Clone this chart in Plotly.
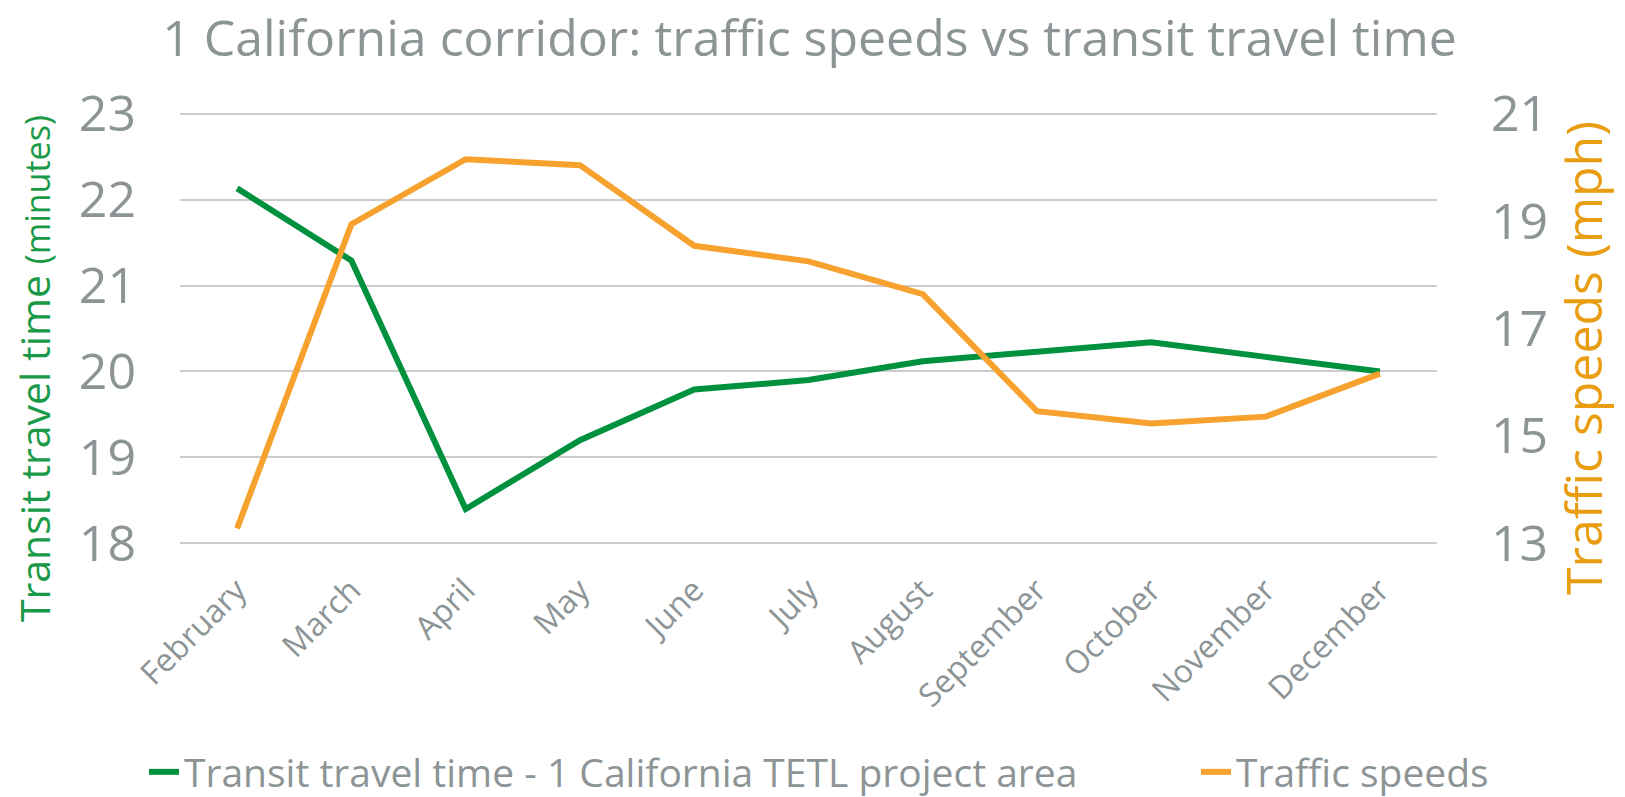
import plotly.graph_objects as go

months = ["February", "March", "April", "May", "June", "July", "August",
          "September", "October", "November", "December"]
transit_minutes = [22.13, 21.29, 18.40, 19.20, 19.79, 19.90, 20.12, 20.23, 20.34, 20.17, 20.00]
traffic_mph = [13.28, 18.94, 20.15, 20.04, 18.54, 18.25, 17.64, 15.46, 15.23, 15.36, 16.16]
left_ticks = [18, 19, 20, 21, 22, 23]
right_ticks = [13, 15, 17, 19, 21]

GRAY = "#8C9496"
GREEN = "#00913F"
ORANGE = "#F7A12E"
FONT = "Open Sans"

# page body keeps its default 8px margin, so the figure is 8px smaller
W, H = 1617, 789
L, R, T, B = 172, 188, 103, 251
PW, PH = W - L - R, H - T - B


def px(x):
    return (x - L) / PW


def py(y):
    return (H - B - y) / PH


fig = go.Figure()
fig.add_trace(go.Scatter(
    x=months, y=transit_minutes, mode="lines",
    name="Transit travel time - 1 California TETL project area",
    line=dict(color=GREEN, width=6), yaxis="y", legend="legend"))
fig.add_trace(go.Scatter(
    x=months, y=traffic_mph, mode="lines", name="Traffic speeds",
    line=dict(color=ORANGE, width=6), yaxis="y2", legend="legend2"))

pad = 0.03
leg_y = 1 - 764 / H
fig.update_layout(
    width=W, height=H,
    margin=dict(l=L, r=R, t=T, b=B, autoexpand=False),
    paper_bgcolor="white", plot_bgcolor="white",
    font=dict(family=FONT, color=GRAY),
    title=dict(text="1 California corridor: traffic speeds vs transit travel time",
               font=dict(size=50, color=GRAY, family=FONT),
               x=px(801.5), xref="paper", xanchor="center",
               y=1 - 30 / H, yref="container", yanchor="middle"),
    xaxis=dict(type="category", range=[-0.5, 10.5], showgrid=False,
               showline=False, zeroline=False, tickangle=-45,
               tickfont=dict(size=32, color=GRAY, family=FONT),
               ticks="", ticklabelstandoff=18),
    yaxis=dict(range=[18 - pad, 23 + pad], tickvals=left_ticks, showgrid=True,
               gridcolor="#CCCCCC", gridwidth=2, zeroline=False, showline=False,
               tickfont=dict(size=50, color=GRAY, family=FONT),
               ticks="", ticklabelstandoff=43),
    yaxis2=dict(range=[13 - pad * 1.6, 21 + pad * 1.6], tickvals=right_ticks,
                overlaying="y", side="right",
                showgrid=False, zeroline=False, showline=False,
                tickfont=dict(size=50, color=GRAY, family=FONT),
                ticks="", ticklabelstandoff=53),
    legend=dict(orientation="h", xref="container", yref="container",
                x=136 / W, xanchor="left", y=leg_y,
                yanchor="middle", font=dict(size=39, color=GRAY, family=FONT),
                itemwidth=30, bgcolor="rgba(0,0,0,0)"),
    legend2=dict(orientation="h", xref="container", yref="container",
                 x=1188 / W, xanchor="left", y=leg_y,
                 yanchor="middle", font=dict(size=39, color=GRAY, family=FONT),
                 itemwidth=30, bgcolor="rgba(0,0,0,0)"),
    showlegend=True,
)

fig.add_annotation(
    text="Transit travel time <span style='font-size:34px'>(minutes)</span>",
    textangle=-90, xref="paper", yref="paper",
    x=px(26), y=py(361), xanchor="center", yanchor="middle",
    showarrow=False, font=dict(size=41, color="#1A9A48", family=FONT))
fig.add_annotation(
    text="Traffic speeds (mph)",
    textangle=-90, xref="paper", yref="paper",
    x=px(1575), y=py(350), xanchor="center", yanchor="middle",
    showarrow=False, font=dict(size=50, color="#E89D12", family=FONT))

fig.write_html("out.html")
